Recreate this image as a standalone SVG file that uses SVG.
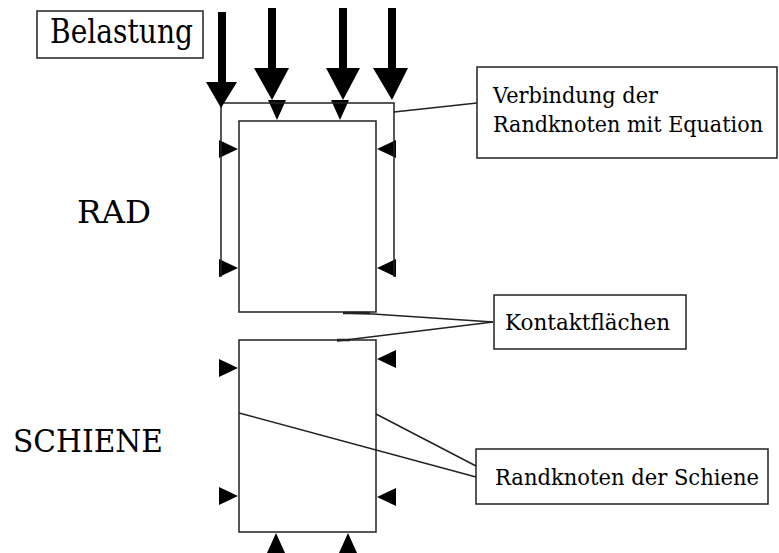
<svg xmlns="http://www.w3.org/2000/svg" width="779" height="553" viewBox="0 0 779 553">
<style>
.ln{fill:none;stroke:#222;stroke-width:1.5}
.bx{fill:#fff;stroke:#222;stroke-width:1.5}
.tri{fill:#000}
text{font-family:"DejaVu Serif","Liberation Serif",serif;fill:#000}
</style>
<rect width="779" height="553" fill="#fff"/>
<g id="rad">
<rect class="bx" x="239" y="121" width="137" height="191"/>
<polygon class="tri" points="268,100 286,100 277,120"/>
<polygon class="tri" points="331,100 349,100 340,120"/>
<polygon class="tri" points="219,140 219,158 238,149"/>
<polygon class="tri" points="219,259 219,277 238,268"/>
<polygon class="tri" points="396,140 396,158 377,149"/>
<polygon class="tri" points="396,259 396,277 377,268"/>
<text x="77" y="223" font-size="32" textLength="74" lengthAdjust="spacingAndGlyphs">RAD</text>
</g>
<g id="schiene">
<rect class="bx" x="239" y="340" width="137" height="192"/>
<polygon class="tri" points="219,359 219,377 238,368"/>
<polygon class="tri" points="219,487 219,505 238,496"/>
<polygon class="tri" points="396,350 396,368 377,359"/>
<polygon class="tri" points="396,488 396,506 377,497"/>
<polygon class="tri" points="276,533 267,553 285,553"/>
<polygon class="tri" points="348,533 339,553 357,553"/>
<text x="13" y="452" font-size="32" textLength="150" lengthAdjust="spacingAndGlyphs">SCHIENE</text>
</g>
<g id="belastung">
<rect class="bx" x="37" y="11" width="166" height="47"/>
<text x="50" y="43" font-size="33" textLength="143" lengthAdjust="spacingAndGlyphs">Belastung</text>
</g>
<g id="verbindung">
<rect class="bx" x="477" y="67" width="300" height="91"/>
<text x="493" y="103" font-size="23" textLength="165" lengthAdjust="spacingAndGlyphs">Verbindung der</text>
<text x="493" y="132" font-size="21.5" textLength="270" lengthAdjust="spacingAndGlyphs">Randknoten mit Equation</text>
</g>
<g id="kontakt">
<rect class="bx" x="494" y="295" width="192" height="54"/>
<text x="505" y="330" font-size="23" textLength="165" lengthAdjust="spacingAndGlyphs">Kontaktflächen</text>
</g>
<g id="randknoten">
<rect class="bx" x="476" y="449" width="292" height="55"/>
<text x="495" y="485" font-size="22.5" textLength="264" lengthAdjust="spacingAndGlyphs">Randknoten der Schiene</text>
</g>
<g id="connectors">
<polyline class="ln" points="221,277 221,103 394,103 394,277"/>
<polyline class="ln" points="394,112 477,103"/>
<polyline class="ln" points="343,313 373,314 493,322"/>
<line class="ln" x1="343" y1="313" x2="370" y2="313" style="stroke-width:2.5"/>
<polyline class="ln" points="337,341 493,322"/>
<line class="ln" x1="337" y1="340" x2="350" y2="340" style="stroke-width:2.5"/>
<line class="ln" x1="376" y1="414" x2="476" y2="466"/>
<line class="ln" x1="239" y1="413" x2="476" y2="477"/>
</g>
<g id="loads">
<rect x="218" y="12" width="8" height="72" class="tri"/>
<polygon class="tri" points="206,82 237,82 221,108"/>
<rect x="268" y="8" width="8" height="62" class="tri"/>
<polygon class="tri" points="254,68 289,68 272,100"/>
<rect x="339" y="8" width="8" height="62" class="tri"/>
<polygon class="tri" points="326,68 360,68 343,100"/>
<rect x="388" y="8" width="8" height="62" class="tri"/>
<polygon class="tri" points="373,68 408,68 392,100"/>
</g>
</svg>
